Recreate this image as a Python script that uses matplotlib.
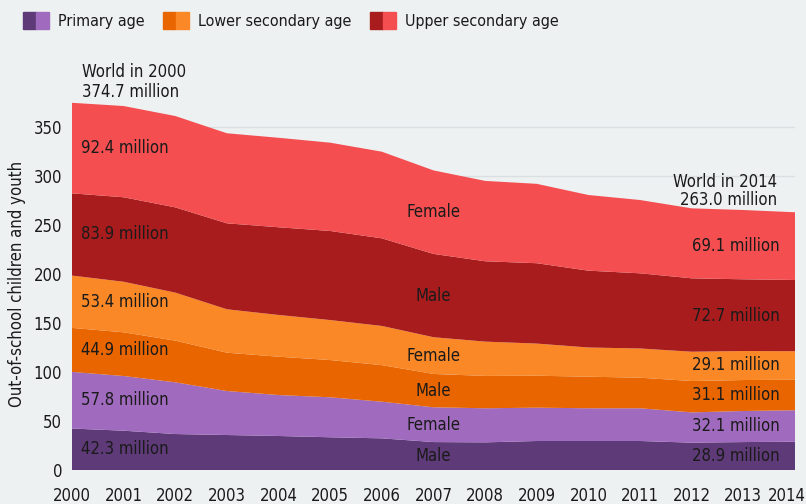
import matplotlib
matplotlib.use("Agg")
import matplotlib.pyplot as plt
from matplotlib.patches import Patch
from matplotlib.legend_handler import HandlerTuple
from matplotlib import font_manager as fm
import matplotlib.transforms as mtransforms
import numpy as np

# prefer a condensed face if the system has one
cond = [f for f in fm.fontManager.ttflist
        if f.name == 'DejaVu Sans' and 'ondensed' in (f.fname or '')]
if cond:
    plt.rcParams['font.family'] = ['DejaVu Sans']
    plt.rcParams['font.stretch'] = 'condensed'
    FONT_NOTE = 'dejavu-condensed'
else:
    plt.rcParams['font.family'] = ['Roboto', 'DejaVu Sans']
    FONT_NOTE = 'roboto'

years = list(range(2000, 2015))
primary_male = [42.3, 40.1, 36.7, 35.7, 34.7, 33.4, 32.3, 28.5, 28.2, 29.6, 29.6, 29.6, 27.9, 28.5, 28.9]
primary_female = [57.8, 55.8, 52.8, 44.9, 41.8, 40.8, 37.4, 35.5, 34.8, 34.0, 33.4, 33.4, 30.9, 31.7, 32.1]
lower_male = [44.9, 44.6, 42.5, 39.1, 39.1, 38.0, 37.3, 34.0, 33.0, 32.6, 32.2, 31.2, 32.0, 31.6, 31.1]
lower_female = [53.4, 51.6, 49.0, 44.3, 42.6, 40.8, 40.0, 37.5, 35.0, 32.8, 29.8, 29.8, 29.9, 29.6, 29.1]
upper_male = [83.9, 86.2, 87.0, 87.7, 89.5, 90.9, 89.4, 85.0, 82.0, 82.0, 78.4, 76.7, 74.9, 73.2, 72.7]
upper_female = [92.4, 93.1, 93.2, 91.9, 91.3, 90.1, 88.4, 85.2, 82.0, 81.0, 77.2, 74.8, 71.4, 70.7, 69.1]

series = [primary_male, primary_female, lower_male, lower_female, upper_male, upper_female]
colors = ['#5E3A78', '#A06BBE', '#E86500', '#FA8826', '#A81C1E', '#F44E50']
sex_labels = ['Male', 'Female', 'Male', 'Female', 'Male', 'Female']
groups = ['Primary age', 'Lower secondary age', 'Upper secondary age']
total_2000 = 374.7
total_2014 = 263.0

bg = '#EDF1F2'
txt = '#1a1a1a'
fs = 11.5 if FONT_NOTE == 'roboto' else 12

fig = plt.figure(figsize=(8.06, 5.04), dpi=100, facecolor=bg)
ax = fig.add_axes([72/806, 1-470/504, (795-72)/806, (470-97.6)/504])
ax.set_facecolor(bg)

ax.stackplot(years, *series, colors=colors, zorder=2, linewidth=0)
ax.set_xlim(2000, 2014)
ax.set_ylim(0, 380)
ax.set_yticks([0, 50, 100, 150, 200, 250, 300, 350])
ax.set_xticks(years)
ax.yaxis.grid(True, color='#DADFE1', linewidth=1, zorder=0)
ax.set_axisbelow(True)
for s in ax.spines.values():
    s.set_visible(False)
ax.tick_params(axis='both', length=0, labelsize=fs, colors=txt)
ax.tick_params(axis='x', pad=12)
ax.tick_params(axis='y', pad=7)
ax.set_ylabel('Out-of-school children and youth', fontsize=fs, color=txt)
ax.yaxis.set_label_coords(-46/723, 0.5)

# keep the last year label inside the canvas
last = ax.get_xticklabels()[-1]
last.set_transform(last.get_transform() + mtransforms.ScaledTranslation(-6/72, 0, fig.dpi_scale_trans))

arr = np.array(series)
cum = np.cumsum(arr, axis=0)
lower = cum - arr
mids = (cum + lower) / 2

for i in range(len(series)):
    ax.text(2000.17, mids[i][0], f"{series[i][0]:.1f} million", ha='left', va='center',
            fontsize=fs, color=txt, zorder=5)
    ax.text(2013.7, mids[i][-1], f"{series[i][-1]:.1f} million", ha='right', va='center',
            fontsize=fs, color=txt, zorder=5)
    ax.text(2007, mids[i][7], sex_labels[i], ha='center', va='center',
            fontsize=fs, color=txt, zorder=5)

ax.text(2000.2, cum[-1][0] + 1.5, f"World in 2000\n{total_2000:.1f} million", ha='left', va='bottom',
        fontsize=fs, color=txt, linespacing=1.2)
ax.text(2013.65, cum[-1][-1] + 3, f"World in 2014\n{total_2014:.1f} million", ha='right', va='bottom',
        fontsize=fs, color=txt, linespacing=1.05)

handles = [(Patch(color=colors[2*k]), Patch(color=colors[2*k+1])) for k in range(3)]
fig.legend(handles, groups, handler_map={tuple: HandlerTuple(ndivide=None, pad=0)},
           loc='upper left', bbox_to_anchor=(0.011, 1.004), ncol=3, frameon=False,
           fontsize=11.5, handlelength=1.6, handleheight=1.2, columnspacing=1.2,
           handletextpad=0.55, labelcolor=txt)

fig.savefig('out.png', dpi=100, facecolor=bg)
